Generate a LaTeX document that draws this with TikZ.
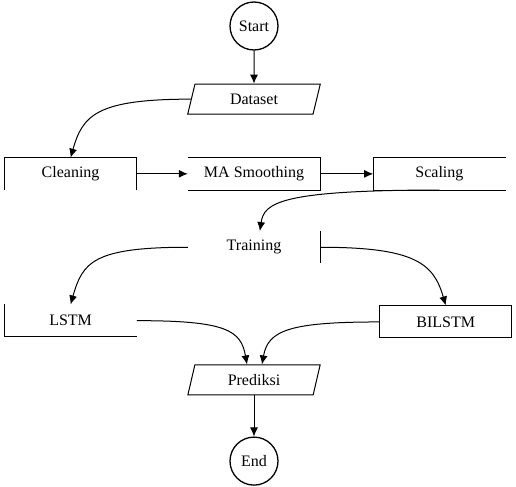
\documentclass[tikz,border=0pt]{standalone}
\usepackage{fontspec}
\setmainfont{Liberation Serif}
\usetikzlibrary{arrows.meta,shapes.geometric,positioning,calc}
\tikzset{
    flow/.style={-{Latex[length=9bp, width=8bp]}, line width=1bp},
    term/.style={draw, circle, minimum size=48bp, inner sep=0pt, line width=1.3bp},
    io/.style={draw, trapezium, trapezium left angle=79, trapezium right angle=101, trapezium stretches=true, minimum width=133bp, minimum height=30bp, line width=1bp},
    stepbox/.style={rectangle, minimum width=132bp, minimum height=32bp, inner sep=0pt},
    rim/.style={line width=1bp}
}

\begin{document}
\begin{tikzpicture}[font=\fontsize{16bp}{19bp}\selectfont, node distance=41bp]
                    \useasboundingbox (0,0) rectangle (516bp,-487bp);
                    \node[term] (start) at (254bp,-26bp) {Start};
                    \node[io, below=33bp of start] (data) {Dataset};
                    \node[stepbox, below=43bp of data] (ma) {MA Smoothing};
                    \node[stepbox, left=51bp of ma] (clean) {Cleaning};
                    \node[stepbox, right=53bp of ma] (scale) {Scaling};
                    \node[stepbox, below=of ma] (train) {Training};
                    \node[stepbox, below left=41bp and 51bp of train] (lstm) {LSTM};
                    \node[stepbox, draw, rim, below right=42bp and 59bp of train] (bilstm) {BILSTM};
                    \node[io, below=101bp of train] (pred) {Prediksi};
                    \node[term, below=of pred] (end) {End};
                    
                    % box outlines as far as they show
                    \draw[rim] (clean.south west) -- (clean.north west) -- (clean.north east) -- (clean.south east);
                    \draw[rim] (ma.north west) -- (ma.north east) -- (ma.south east) -- (ma.south west);
                    \draw[rim] (scale.north east) -- (scale.north west) -- (scale.south west) -- (scale.south east);
                    \draw[rim] (train.north east) -- (train.south east);
                    \draw[rim] (lstm.north west) -- (lstm.south west) -- (lstm.south east);
                    
                    \draw[flow] (start) -- (data);
                    \draw[flow] (clean) -- (ma);
                    \draw[flow] (ma) -- (scale);
                    \draw[flow] (pred.south) -- (end.north);
                    
                    % curved connectors
                    \draw[flow] (data.west) .. controls +(-95bp,0) and +(12bp,42bp) .. (clean.north);
                    \draw[flow] (scale.south) .. controls +(-160bp,0) and +(4bp,28bp) .. (train.70);
                    \draw[flow] (train.west) .. controls +(-95bp,0) and +(12bp,42bp) .. (lstm.north);
                    \draw[flow] (train.east) .. controls +(95bp,0) and +(-12bp,42bp) .. (bilstm.north);
                    \draw[flow] (lstm.east) .. controls +(90bp,0) and +(-6bp,34bp) .. ($(pred.north)+(-7bp,0)$);
                    \draw[flow] (bilstm.west) .. controls +(-90bp,0) and +(6bp,34bp) .. ($(pred.north)+(8bp,0)$);
                \end{tikzpicture}
\end{document}
